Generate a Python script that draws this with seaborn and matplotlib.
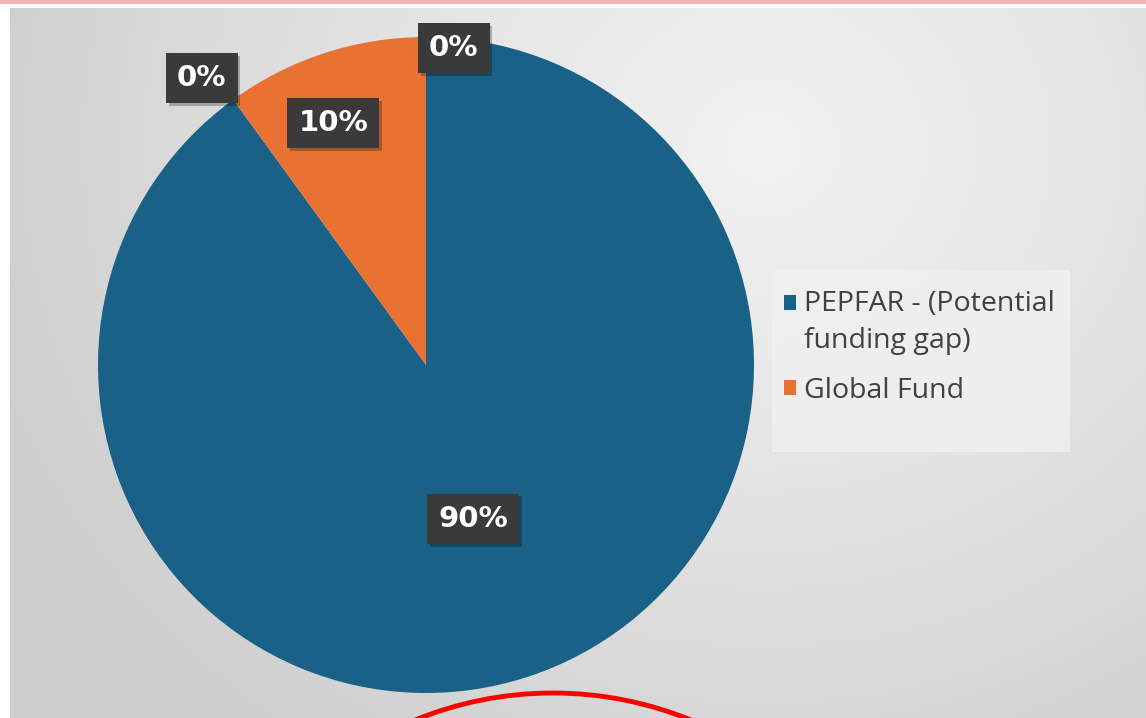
import numpy as np
import matplotlib
matplotlib.use("Agg")
import matplotlib.pyplot as plt
import seaborn as sns
from matplotlib.patches import Rectangle, Ellipse, Patch
from matplotlib.legend_handler import HandlerPatch
import matplotlib.patheffects as pe

# ---- data ----
categories = ["PEPFAR - (Potential\nfunding gap)", "", "Global Fund", ""]
shares = [90, 0, 10, 0]
pct_labels = ["90%", "0%", "10%", "0%"]
legend_items = ["PEPFAR - (Potential\nfunding gap)", "Global Fund"]

# ---- style ----
sns.set_theme(style="white")
plt.rcParams['font.family'] = ['Open Sans', 'DejaVu Sans']
blue = "#1a6187"
orange = "#e97132"
colors = [blue, blue, orange, orange]
legend_colors = [blue, orange]

W, H = 1146, 718
fig = plt.figure(figsize=(W / 100, H / 100), dpi=100)
fig.patch.set_facecolor("white")

# background panel with soft radial gradient
bg = fig.add_axes([0, 0, 1, 1])
bg.set_xlim(0, W)
bg.set_ylim(H, 0)
bg.axis("off")
yy, xx = np.mgrid[0:H, 0:W]
d = np.sqrt(((xx - 760) / 1.0) ** 2 + ((yy - 140) / 0.9) ** 2)
v = 0.945 - 0.135 * np.clip(d / 820, 0, 1) ** 1.2
img = np.dstack([v, v, v])
bg.imshow(img, extent=[10, W, H, 8], aspect="auto", zorder=0)
bg.add_patch(Rectangle((0, 0), W, 3.5, facecolor="#f6b3ba", edgecolor="none", zorder=1))
# legend background panel
bg.add_patch(Rectangle((772, 270), 298, 182, facecolor="#f0f0f0", alpha=0.85,
                       edgecolor="none", zorder=2))

# pie
ax = fig.add_axes([98 / W, 1 - 693 / H, 656 / W, 656 / H])
ax.set_facecolor("none")
wedges, _ = ax.pie(shares, colors=colors, startangle=90, counterclock=False,
                   radius=1.0, wedgeprops=dict(linewidth=0))
ax.set_xlim(-1, 1)
ax.set_ylim(-1, 1)
ax.set_aspect("equal")
ax.axis("off")

r_fac = [0.49, 1.11, 0.79, 0.97]
ang_nudge = [-1, 2, 3, -5]
shadow = [pe.SimplePatchShadow(offset=(2, -2), shadow_rgbFace="#000000", alpha=0.25),
          pe.Normal()]
for w, lab, rf, an in zip(wedges, pct_labels, r_fac, ang_nudge):
    th = np.deg2rad((w.theta1 + w.theta2) / 2 + an)
    t = ax.text(rf * np.cos(th), rf * np.sin(th), lab, ha="center", va="center",
                fontsize=21, fontweight="bold", color="white", zorder=5,
                family=["DejaVu Sans"],
                bbox=dict(boxstyle="square,pad=0.38", facecolor="#3a3a3a",
                          edgecolor="none"))
    t.get_bbox_patch().set_path_effects(shadow)

# legend (square marker aligned with the first text line)
fs = 20.5
lsp = 1.42


class TopSquare(HandlerPatch):
    def create_artists(self, legend, orig_handle, xdescent, ydescent, width,
                       height, fontsize, trans):
        lab = orig_handle.get_label() or ""
        nlines = lab.count("\n") + 1
        shift = (nlines - 1) * fontsize * lsp * 0.5
        p = Rectangle((-xdescent, -ydescent + shift), width, height,
                      facecolor=orig_handle.get_facecolor(), edgecolor="none",
                      transform=trans)
        return [p]


handles = [Patch(facecolor=c, edgecolor="none", label=l)
           for c, l in zip(legend_colors, legend_items)]
leg = fig.legend(handles, legend_items, loc="upper left",
                 bbox_to_anchor=(784 / W, 1 - 290 / H),
                 fontsize=fs, frameon=False, handlelength=0.42, handleheight=0.42,
                 handletextpad=0.3, labelspacing=0.78, borderpad=0,
                 borderaxespad=0, handler_map={Patch: TopSquare()})
for t in leg.get_texts():
    t.set_color("#404040")
    t.set_linespacing(lsp)

# red annotation circle at the bottom
bg.add_patch(Ellipse((553, 1059), 2 * 366, 2 * 366, facecolor="none",
                     edgecolor="#ff0000", linewidth=3.5, zorder=6))

fig.savefig("out.png", dpi=100)
